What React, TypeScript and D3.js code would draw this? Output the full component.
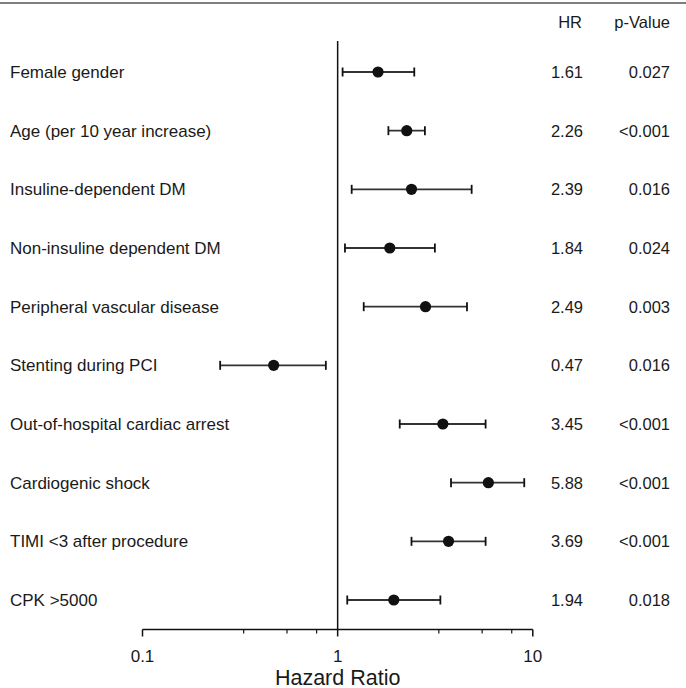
import React from "react";
import * as d3 from "d3";

const categories = [
  "Female gender",
  "Age (per 10 year increase)",
  "Insuline-dependent DM",
  "Non-insuline dependent DM",
  "Peripheral vascular disease",
  "Stenting during PCI",
  "Out-of-hospital cardiac arrest",
  "Cardiogenic shock",
  "TIMI <3 after procedure",
  "CPK >5000",
];
const estimates = [1.61, 2.26, 2.39, 1.85, 2.82, 0.47, 3.46, 5.92, 3.7, 1.94];
const lower = [1.06, 1.82, 1.18, 1.09, 1.36, 0.25, 2.08, 3.81, 2.39, 1.12];
const upper = [2.47, 2.8, 4.86, 3.15, 4.6, 0.87, 5.73, 9.04, 5.73, 3.36];
const hrLabels = ["1.61", "2.26", "2.39", "1.84", "2.49", "0.47", "3.45", "5.88", "3.69", "1.94"];
const pLabels = ["0.027", "<0.001", "0.016", "0.024", "0.003", "0.016", "<0.001", "<0.001", "<0.001", "0.018"];
const majorTicks = [0.1, 1, 10];
const minorTicks = [0.33, 0.55, 0.78, 3.3, 5.5, 7.8];

const W = 686;
const H = 688;
const FONT = "Liberation Sans, Arial, Helvetica, sans-serif";

export default function App() {
  const x = d3.scaleLog().domain([0.1, 10]).range([142.5, 532.8]);
  const y = d3.scalePoint<string>().domain(categories).range([72, 600]);
  const axisY = 629.5;
  const refX = x(1);
  const txt = "#1a1a1a";

  return (
    <svg
      width={W}
      height={H}
      style={{ position: "absolute", left: 0, top: 0, background: "#fff" }}
      fontFamily={FONT}
    >
      <line x1={0} x2={W} y1={3} y2={3} stroke="#555" strokeWidth={1.5} />
      {/* headers */}
      <text x={582} y={28} textAnchor="end" fontSize={16.5} fill={txt}>HR</text>
      <text x={670} y={28} textAnchor="end" fontSize={16.5} fill={txt}>p-Value</text>

      {/* reference line */}
      <line x1={refX} x2={refX} y1={41} y2={axisY} stroke="#111" strokeWidth={1.5} />

      {categories.map((c, i) => {
        const cy = y(c)!;
        const x0 = x(lower[i]);
        const x1 = x(upper[i]);
        return (
          <g key={c}>
            <text x={10} y={cy} dy="0.36em" fontSize={17} fill={txt}>{c}</text>
            <line x1={x0} x2={x1} y1={cy} y2={cy} stroke="#333" strokeWidth={1.8} />
            <line x1={x0} x2={x0} y1={cy - 4.5} y2={cy + 4.5} stroke="#111" strokeWidth={1.8} />
            <line x1={x1} x2={x1} y1={cy - 4.5} y2={cy + 4.5} stroke="#111" strokeWidth={1.8} />
            <circle cx={x(estimates[i])} cy={cy} r={5.6} fill="#111" />
            <text x={583} y={cy} dy="0.36em" textAnchor="end" fontSize={16.5} fill={txt}>{hrLabels[i]}</text>
            <text x={670} y={cy} dy="0.36em" textAnchor="end" fontSize={16.5} fill={txt}>{pLabels[i]}</text>
          </g>
        );
      })}

      {/* x axis */}
      <line x1={x(0.1)} x2={x(10)} y1={axisY} y2={axisY} stroke="#111" strokeWidth={1.5} />
      {majorTicks.map((t) => (
        <g key={t}>
          <line x1={x(t)} x2={x(t)} y1={axisY} y2={axisY + 7} stroke="#111" strokeWidth={1.5} />
          <text x={x(t)} y={661.5} textAnchor="middle" fontSize={17} fill={txt}>{String(t)}</text>
        </g>
      ))}
      {minorTicks.map((t) => (
        <line key={t} x1={x(t)} x2={x(t)} y1={axisY} y2={axisY + 4} stroke="#111" strokeWidth={1.2} />
      ))}
      <text x={refX} y={684.5} textAnchor="middle" fontSize={21.5} fill={txt}>Hazard Ratio</text>
    </svg>
  );
}
